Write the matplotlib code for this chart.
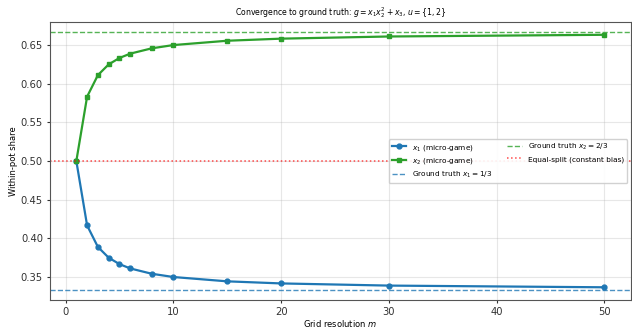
import matplotlib
matplotlib.use("Agg")
import matplotlib.pyplot as plt

m_values = [1, 2, 3, 4, 5, 6, 8, 10, 15, 20, 30, 50]
x1_share = [0.5000, 0.4167, 0.3889, 0.3750, 0.3667, 0.3611, 0.3542, 0.3500, 0.3444, 0.3417, 0.3389, 0.3367]
x2_share = [0.5000, 0.5833, 0.6111, 0.6250, 0.6333, 0.6389, 0.6458, 0.6500, 0.6556, 0.6583, 0.6611, 0.6633]
gt_x1 = 1 / 3
gt_x2 = 2 / 3
equal_split = 0.5

fig = plt.figure(figsize=(6.32, 3.3), dpi=100)
ax = fig.add_axes([0.079, 0.091, 0.919, 0.842])

ax.plot(m_values, x1_share, marker="o", markersize=3.5, lw=1.6, color="C0", label=r"$x_1$ (micro-game)")
ax.plot(m_values, x2_share, marker="s", markersize=3.5, lw=1.6, color="C2", label=r"$x_2$ (micro-game)")
ax.axhline(gt_x1, color="C0", ls="--", lw=1.0, alpha=0.8, label=r"Ground truth $x_1=1/3$")
ax.axhline(gt_x2, color="C2", ls="--", lw=1.0, alpha=0.8, label=r"Ground truth $x_2=2/3$")
ax.axhline(equal_split, color="red", ls=":", lw=1.1, alpha=0.7, label="Equal-split (constant bias)")

ax.set_ylim(0.3203, 0.6797)
ax.set_xlim(-1.45, 52.45)
ax.grid(True, alpha=0.3)
for s in ax.spines.values():
    s.set_color("#555555")
ax.tick_params(labelsize=7.2, colors="#333333", length=2.5, pad=2.5)
ax.set_xlabel(r"Grid resolution $m$", fontsize=6, labelpad=1)
ax.set_ylabel("Within-pot share", fontsize=6, labelpad=2)
ax.set_title(r"Convergence to ground truth: $g = x_1 x_2^2 + x_3$, $u = \{1, 2\}$", fontsize=5.6, pad=5)
ax.legend(loc="center right", ncol=2, fontsize=5.3, framealpha=0.9)

fig.savefig("out.png", dpi=100)
